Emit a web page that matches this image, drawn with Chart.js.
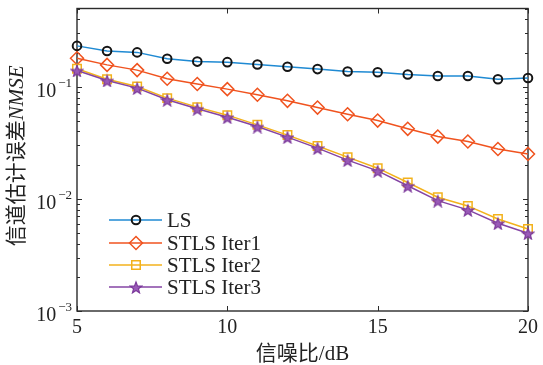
<!DOCTYPE html>
<html>
<head>
<meta charset="utf-8">
<script src="https://cdn.jsdelivr.net/npm/chart.js@4/dist/chart.umd.min.js"></script>
<style>
  html, body { margin: 0; padding: 0; background: #fff; }
</style>
</head>
<body>
<canvas id="chart" width="543" height="365"></canvas>
<script>
// data
const snr = [5, 6, 7, 8, 9, 10, 11, 12, 13, 14, 15, 16, 17, 18, 19, 20];
const ls = [0.232, 0.209, 0.203, 0.178, 0.168, 0.166, 0.158, 0.151, 0.144, 0.137, 0.135, 0.129, 0.125, 0.125, 0.117, 0.120];
const iter1 = [0.180, 0.157, 0.141, 0.118, 0.106, 0.0954, 0.0849, 0.0750, 0.0653, 0.0570, 0.0500, 0.0422, 0.0360, 0.0325, 0.0279, 0.0252];
const iter2 = [0.145, 0.117, 0.1006, 0.0793, 0.0659, 0.0559, 0.0458, 0.0371, 0.0297, 0.0236, 0.0188, 0.0140, 0.01035, 0.00866, 0.00663, 0.0054];
const iter3 = [0.140, 0.114, 0.0974, 0.0766, 0.0637, 0.0536, 0.0442, 0.0356, 0.0284, 0.0222, 0.0178, 0.0131, 0.00966, 0.00798, 0.00607, 0.00494];
const seriesNames = ["LS", "STLS Iter1", "STLS Iter2", "STLS Iter3"];
const xTicks = [5, 10, 15, 20];
const yDecades = [-3, -2, -1];
const yMin = 1e-3, yMax = 0.5;

const serif = "'Liberation Serif', 'Times New Roman', 'Noto Sans CJK SC', serif";
const axisColor = "#2b2b2b";

function starImage(size, fill, stroke) {
  const c = document.createElement("canvas");
  c.width = c.height = size;
  const g = c.getContext("2d");
  const cx = size / 2, r = size / 2 - 1, ri = r * 0.42;
  g.beginPath();
  for (let i = 0; i < 10; i++) {
    const a = -Math.PI / 2 + i * Math.PI / 5;
    const rr = i % 2 ? ri : r;
    g.lineTo(cx + rr * Math.cos(a), cx + 1 + rr * Math.sin(a));
  }
  g.closePath();
  g.fillStyle = fill;
  g.fill();
  g.strokeStyle = stroke;
  g.lineWidth = 1.2;
  g.stroke();
  return c;
}

const pts = arr => snr.map((s, i) => ({ x: s, y: arr[i] }));

const datasets = [
  {
    label: seriesNames[0], data: pts(ls), order: 3,
    borderColor: "#1f8ad3", borderWidth: 1.5,
    pointStyle: "circle", pointRadius: 4.3, pointBorderWidth: 2,
    pointBorderColor: "#151515", pointBackgroundColor: "rgba(0,0,0,0)"
  },
  {
    label: seriesNames[1], data: pts(iter1), order: 2,
    borderColor: "#f0531f", borderWidth: 1.5,
    pointStyle: "rectRot", pointRadius: 6.5, pointBorderWidth: 1.5,
    pointBorderColor: "#f0531f", pointBackgroundColor: "rgba(255,255,255,0)"
  },
  {
    label: seriesNames[2], data: pts(iter2), order: 1,
    borderColor: "#f3b21c", borderWidth: 1.5,
    pointStyle: "rect", pointRadius: 6, pointBorderWidth: 1.5,
    pointBorderColor: "#f3b21c", pointBackgroundColor: "rgba(255,255,255,0)"
  },
  {
    label: seriesNames[3], data: pts(iter3), order: 0,
    borderColor: "#8444a4", borderWidth: 1.5,
    pointStyle: starImage(14, "#9a5bb8", "#7d3a9c"), pointRadius: 7,
    pointBorderColor: "#8444a4", pointBackgroundColor: "#9a5bb8"
  }
];
datasets.forEach(d => { d.clip = false; d.tension = 0; d.fill = false; });

// box, inward ticks, log labels, y title, legend
const matlabAxes = {
  id: "matlabAxes",
  beforeDatasetsDraw(chart) {
    const { ctx, chartArea: a, scales: { x, y } } = chart;
    ctx.save();
    ctx.strokeStyle = axisColor;
    ctx.lineWidth = 1.4;
    ctx.strokeRect(a.left, a.top, a.right - a.left, a.bottom - a.top);
    ctx.lineWidth = 1;
    ctx.beginPath();
    xTicks.forEach(v => {
      const px = Math.round(x.getPixelForValue(v)) + 0.5;
      ctx.moveTo(px, a.bottom); ctx.lineTo(px, a.bottom - 5);
      ctx.moveTo(px, a.top); ctx.lineTo(px, a.top + 5);
    });
    yDecades.forEach(k => {
      for (let m = 1; m <= 9; m++) {
        const v = m * Math.pow(10, k);
        if (v > yMax * 1.0001) break;
        const py = Math.round(y.getPixelForValue(v)) + 0.5;
        const len = m === 1 ? 5 : 3;
        ctx.moveTo(a.left, py); ctx.lineTo(a.left + len, py);
        ctx.moveTo(a.right, py); ctx.lineTo(a.right - len, py);
      }
    });
    ctx.stroke();
    ctx.restore();
  },
  afterDraw(chart) {
    const { ctx, chartArea: a, scales: { y } } = chart;
    ctx.save();
    ctx.fillStyle = "#222";
    // y tick labels 10^k
    yDecades.forEach(k => {
      const py = y.getPixelForValue(Math.pow(10, k));
      ctx.font = "13px " + serif;
      const exp = "\u2212" + Math.abs(k);
      const ew = ctx.measureText(exp).width;
      const ex = a.left - 5 - ew;
      ctx.textAlign = "left";
      ctx.textBaseline = "middle";
      ctx.fillText(exp, ex, py - 3);
      ctx.font = "20px " + serif;
      ctx.textAlign = "right";
      ctx.fillText("10", ex - 2, py + 5);
    });
    // y title
    ctx.translate(17, (a.top + a.bottom) / 2 - 4);
    ctx.rotate(-Math.PI / 2);
    ctx.textBaseline = "middle";
    const cn = "信道估计误差", en = "NMSE";
    ctx.font = "21px " + serif;
    const w1 = ctx.measureText(cn).width;
    ctx.font = "italic 21px " + serif;
    const w2 = ctx.measureText(en).width;
    let sx = -(w1 + w2) / 2;
    ctx.textAlign = "left";
    ctx.font = "21px " + serif;
    ctx.fillText(cn, sx, 0);
    ctx.font = "italic 21px " + serif;
    ctx.fillText(en, sx + w1, 0);
    ctx.restore();

    // legend
    ctx.save();
    const rows = [220, 243, 265, 287];
    chart.data.datasets.forEach((d, i) => {
      const ry = rows[i];
      ctx.strokeStyle = d.borderColor;
      ctx.lineWidth = d.borderWidth;
      ctx.beginPath();
      ctx.moveTo(109, ry); ctx.lineTo(162, ry);
      ctx.stroke();
      ctx.strokeStyle = d.pointBorderColor;
      ctx.fillStyle = d.pointBackgroundColor;
      ctx.lineWidth = d.pointBorderWidth || 1;
      Chart.helpers.drawPoint(ctx, {
        pointStyle: d.pointStyle, radius: d.pointRadius,
        borderWidth: d.pointBorderWidth || 0, rotation: 0
      }, 136, ry);
      ctx.fillStyle = "#222";
      ctx.font = "21px " + serif;
      ctx.textAlign = "left";
      ctx.textBaseline = "middle";
      ctx.fillText(d.label, 167, ry + 1);
    });
    ctx.restore();
  }
};

new Chart(document.getElementById("chart"), {
  type: "line",
  data: { datasets },
  options: {
    responsive: false,
    animation: false,
    devicePixelRatio: 1,
    layout: { padding: { top: 8, right: 13, left: 0, bottom: 0 } },
    plugins: { legend: { display: false }, tooltip: { enabled: false } },
    scales: {
      x: {
        type: "linear", min: 5, max: 20,
        afterBuildTicks: s => { s.ticks = xTicks.map(v => ({ value: v })); },
        afterFit: s => { s.height = 54; },
        grid: { display: false, drawTicks: false },
        border: { display: false },
        ticks: { color: "#222", padding: 5, font: { family: serif, size: 20 } },
        title: {
          display: true, text: "信噪比/dB", color: "#222",
          font: { family: serif, size: 21, lineHeight: 1.0 }, padding: { top: 0, bottom: 0 }
        }
      },
      y: {
        type: "logarithmic", min: yMin, max: yMax,
        afterFit: s => { s.width = 77; },
        grid: { display: false },
        border: { display: false },
        ticks: { display: false }
      }
    }
  },
  plugins: [matlabAxes]
});
</script>
</body>
</html>
